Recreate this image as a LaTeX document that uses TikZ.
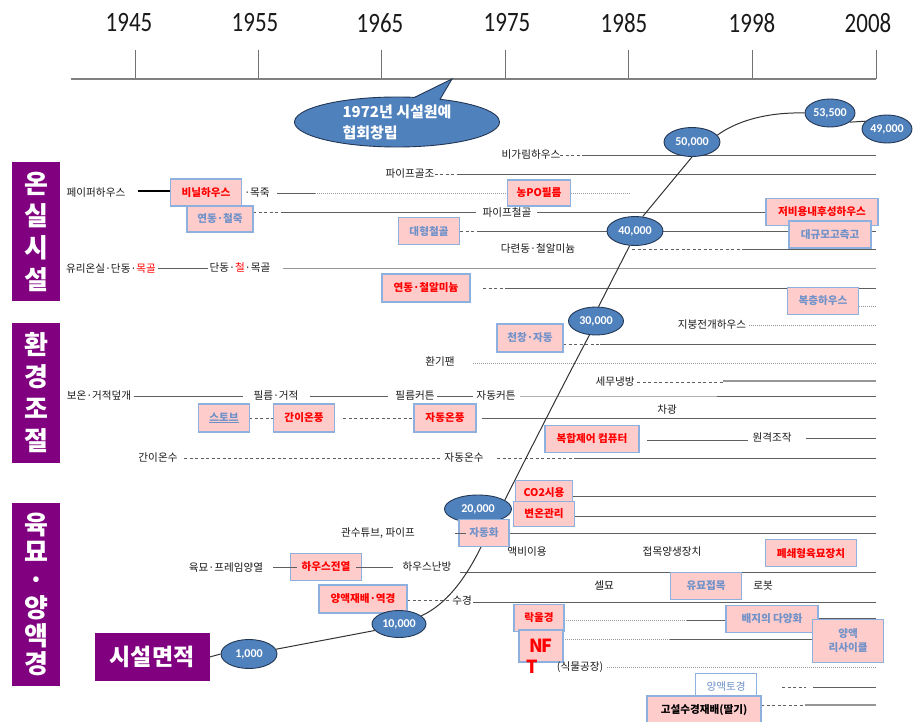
\documentclass[tikz,border=0pt]{standalone}
\usepackage{fontspec}
\usepackage{graphicx}
\newfontfamily\kr{Noto Sans CJK KR}
\newfontfamily\carl{Carlito}
\usetikzlibrary{shapes.geometric,shapes.callouts}
\definecolor{boxf}{RGB}{255,204,204}
\definecolor{boxb}{RGB}{141,176,222}
\definecolor{btxt}{RGB}{112,146,200}
\definecolor{rtxt}{RGB}{255,0,0}
\definecolor{eblue}{RGB}{79,129,189}
\definecolor{eedge}{RGB}{35,55,85}
\definecolor{purp}{RGB}{128,0,128}
\definecolor{lgray}{RGB}{95,95,95}
\definecolor{xgray}{RGB}{150,150,150}
\begin{document}
\begin{tikzpicture}[x=1pt,y=-1pt,
  lbl/.style={font=\kr\fontsize{10.6}{11}\selectfont, inner sep=0pt, text=black!90},
  bx/.style={draw=boxb, fill=boxf, line width=1.1pt, inner sep=0pt, font=\kr\bfseries\fontsize{10.6}{11}\selectfont, text=rtxt},
  bbx/.style={bx, text=btxt},
  val/.style={ellipse, draw=eedge, fill=eblue, line width=0.9pt, inner sep=0pt, text=white, font=\carl\bfseries\fontsize{12}{12}\selectfont, minimum width=56pt, minimum height=29pt},
  side/.style={fill=purp, text=white, font=\kr\bfseries\fontsize{26}{32}\selectfont, align=center, inner sep=0pt},
  sl/.style={draw=lgray, line width=0.9pt},
  gl/.style={draw=xgray, line width=0.9pt},
  dl/.style={draw=lgray, line width=0.9pt, dash pattern=on 3pt off 2.5pt},
  ol/.style={draw=xgray, line width=0.7pt, dash pattern=on 1pt off 1pt},
  crv/.style={draw=black!80, line width=1pt},
  yrs/.style={font=\carl\fontsize{28}{28}\selectfont, inner sep=0pt, text=black!90},
  tick/.style={draw=black!55, line width=0.8pt},
]
\useasboundingbox (0,0) rectangle (914,722);
\coordinate (R) at (876,0);

% ---------- timeline ----------
\foreach \yr/\xx/\tx in {1945/135/129,1955/258/255,1965/381/380,1975/505/507,1985/628/624,1998/752/752,2008/876/868}{
  \node[yrs] (y\yr) at (\tx,23) {\scalebox{0.82}[1]{\yr}};
  \draw[tick] (\xx,50) -- (\xx,79);
}
\draw[draw=black!50, line width=1.6pt] (71,79) -- (R |- 0,79);

% ---------- section 1: 온실시설 ----------
\node[lbl] (t1) at (531,155) {비가림하우스};
\draw[dl] (t1.east) -- (583,155);
\draw[sl] (583,155) -- (R |- 0,155);

\node[lbl] (t2) at (410,174) {파이프골조};
\draw[dl] (t2.east) -- (457,174);
\draw[sl] (457,174) -- (R |- 0,174);

\node[lbl] (t3) at (96,193) {페이퍼하우스};
\draw[line width=2.4pt, black] (138,191) -- (172,191);
\draw[sl] (277,193.5) -- (315,193.5);
\draw[ol] (315,193.5) -- (630,193.5);
\node[bx, minimum width=71pt, minimum height=27pt] (b3) at (206,192.5) {비닐하우스};
\node[lbl] (t3b) at (257,193) {·목죽};
\node[bx, minimum width=63pt, minimum height=26pt] (b3c) at (539,193) {농PO필름};

\draw[dl] (253,212) -- (283,212);
\draw[sl] (283,212) -- (476,212);
\draw[sl] (537,212) -- (766,212);
\node[bbx, minimum width=66pt, minimum height=26pt] (b4) at (220,219) {연동·철죽};
\node[lbl] (t4) at (507,213) {파이프철골};

\draw[dl] (460,231) -- (480,231);
\draw[sl] (480,231) -- (R |- 0,231);
\node[bbx, minimum width=61pt, minimum height=27pt] (b5) at (429,231) {대형철골};
\node[bx, minimum width=112pt, minimum height=27pt] (b4b) at (822,212) {저비용내후성하우스};
\node[bbx, minimum width=82pt, minimum height=27pt] (b5b) at (830,234.5) {대규모고측고};

\node[lbl] (t6) at (538,249) {다련동·철알미늄};
\draw[dl] (632,249) -- (745,249);
\draw[sl] (745,249) -- (R |- 0,249);

\node[lbl] (t7) at (111,269) {유리온실·단동·\textcolor{rtxt}{목골}};
\draw[sl] (158,268) -- (208,268);
\node[lbl] (t7b) at (240,268) {단동·\textcolor{rtxt}{철}·목골};
\draw[gl] (283,268) -- (R |- 0,268);

\draw[dl] (483,288) -- (507,288);
\draw[sl] (507,288) -- (R |- 0,288);
\node[bx, minimum width=88pt, minimum height=28pt] (b8) at (426,288) {연동·철알미늄};

\node[bbx, minimum width=71pt, minimum height=27pt] (b9) at (823,301) {복층하우스};
\draw[ol] (b9.east |- 0,306) -- (R |- 0,306);

% ---------- section 2: 환경조절 ----------
\node[lbl] (t10) at (712,325) {지붕전개하우스};
\draw[ol] (749,325) -- (R |- 0,325);

\draw[dl] (563,344) -- (600,344);
\draw[sl] (600,344) -- (R |- 0,344);
\node[bbx, minimum width=66pt, minimum height=28pt] (b11) at (530,338) {천창·자동};

\node[lbl] (t12) at (440,362) {환기팬};
\draw[ol] (473,363) -- (R |- 0,363);

\node[lbl] (t13) at (615,382) {세무냉방};
\draw[dl] (637,382) -- (723,382);
\draw[draw=xgray, line width=1.6pt] (723,381) -- (R |- 0,381);

\node[lbl] (t14a) at (99,396) {보온·거적덮개};
\draw[sl] (134,396) -- (243,396);
\node[lbl] (t14b) at (276,396) {필름·거적};
\draw[sl] (310,396) -- (388,396);
\node[lbl] (t14c) at (415,396) {필름커튼};
\draw[sl] (437,396) -- (473,396);
\node[lbl] (t14d) at (496,396) {자동커튼};
\draw[draw=black!30, line width=0.7pt] (520,396) -- (717,396);
\draw[sl] (717,396) -- (R |- 0,396);

\node[lbl] (t15) at (667,410) {차광};

\draw[dl] (249,418) -- (273,418);
\draw[dl] (343,418) -- (414,418);
\draw[sl] (482,418) -- (R |- 0,418);
\node[bbx, minimum width=51pt, minimum height=28pt] (b16a) at (224,418) {\underline{스토브}};
\node[bx, minimum width=61pt, minimum height=28pt] (b16b) at (304,418) {간이온풍};
\node[bx, minimum width=62pt, minimum height=28pt] (b16c) at (445,418) {자동온풍};

\node[bx, minimum width=94pt, minimum height=27pt] (b17) at (592,439) {복합제어 컴퓨터};
\draw[sl] (647,440) -- (748,440);
\node[lbl] (t17) at (772,438) {원격조작};
\draw[sl] (806,438) -- (R |- 0,438);

\node[lbl] (t18a) at (158,458) {간이온수};
\draw[dl] (184,458) -- (441,458);
\node[lbl] (t18b) at (464,458) {자동온수};
\draw[dl] (497,458) -- (575,458);
\draw[sl] (575,458) -- (R |- 0,458);

% ---------- section 3: 육묘·양액경 ----------
\draw[sl] (573,496) -- (R |- 0,496);
\draw[sl] (574,516) -- (R |- 0,516);
\draw[sl] (509,533) -- (R |- 0,533);
\node[lbl] (t21) at (378,533) {관수튜브, 파이프};

\node[lbl] (t22a) at (527,552) {액비이용};
\node[lbl] (t22b) at (672,552) {접목양생장치};
\node[bx, minimum width=91pt, minimum height=27pt] (b22) at (811,553) {폐쇄형육묘장치};

\node[lbl] (t23a) at (226,568) {육묘·프레임양열};
\node[bx, minimum width=71pt, minimum height=27pt] (b23) at (326,567) {하우스전열};
\draw[sl] (273,567) -- (297,567);
\draw[sl] (356,567) -- (393,567);
\node[lbl] (t23b) at (427,567) {하우스난방};
\draw[sl] (460,572) -- (R |- 0,572);

\node[lbl] (t24a) at (604,585) {셀묘};
\node[bbx, minimum width=71pt, minimum height=27pt] (b24) at (706,586) {유묘접목};
\node[lbl] (t24b) at (763,586) {로봇};

\draw[dl] (407,600) -- (451,600);
\node[bx, minimum width=88pt, minimum height=28pt] (b25) at (363,599) {양액재배·역경};
\node[lbl] (t25) at (462,601) {수경};
\draw[sl] (473,602) -- (R |- 0,602);

\draw[ol] (564,620) -- (687,620);
\draw[sl] (687,620) -- (726,620);
\draw[sl] (818,618) -- (R |- 0,618);
\draw[ol] (563,639) -- (670,639);
\draw[sl] (670,639) -- (813,639);
\node[bx, minimum width=50pt, minimum height=27pt] (b26) at (539,618) {락울경};
\node[bx, minimum width=44pt, minimum height=32pt, font=\kr\bfseries\fontsize{18}{18}\selectfont] (b27) at (541,646) {N\kern-1ptF};
\node[bbx, minimum width=92pt, minimum height=27pt] (b26b) at (772,619) {배지의 다양화};
\node[bbx, minimum width=71pt, minimum height=43pt, align=center, font=\kr\bfseries\fontsize{10.6}{14}\selectfont] (b27b) at (848,641) {양액\\리사이클};

\node[text=rtxt, font=\kr\bfseries\fontsize{18}{18}\selectfont, inner sep=0pt] (t28a) at (532,667) {T};
\node[lbl] (t28b) at (580,667) {(식물공장)};
\draw[ol] (607,667) -- (R |- 0,667);

\draw[dl] (782,687) -- (806,687);
\draw[sl] (813,687) -- (R |- 0,687);
\draw[dl] (761,705) -- (805,705);
\draw[draw=xgray, line width=1.8pt] (805,705) -- (R |- 0,705);
\node[bbx, fill=white, minimum width=61pt, minimum height=27pt, font=\kr\fontsize{10.6}{11}\selectfont] (b29) at (726,687) {양액토경};
\node[bx, text=black, minimum width=114pt, minimum height=28pt] (b30) at (704,710) {고설수경재배(딸기)};

% ---------- side labels ----------
\node[side, minimum width=48pt, minimum height=139pt] (s1) at (36,232) {온\\실\\시\\설};
\node[side, minimum width=48pt, minimum height=139pt] (s2) at (36,393) {환\\경\\조\\절};
\node[side, minimum width=48pt, minimum height=183pt, font=\kr\bfseries\fontsize{26}{27.8}\selectfont] (s3) at (36,594) {육\\묘\\·\\양\\액\\경};
\node[side, font=\kr\bfseries\fontsize{23}{23}\selectfont, minimum width=115pt, minimum height=48pt] (area) at (152,657) {시설면적};

% ---------- callout ----------
\node[ellipse callout, draw=eedge, fill=eblue, line width=0.9pt, minimum width=205pt, minimum height=50pt,
      callout absolute pointer={(452,79)}, text=white, font=\kr\bfseries\fontsize{15}{21}\selectfont,
      align=left, inner sep=0pt] (co) at (397,122) {1972년 시설원예\\협회창립};

% ---------- area curve and values ----------
\node[val] (v1) at (249,654) {1,000};
\node[val, minimum width=54pt, minimum height=27pt] (v10) at (399,624) {10,000};
\node[val, minimum width=55pt, minimum height=28pt] (v30) at (596,321) {30,000};
\node[val] (v40) at (635,231) {40,000};
\node[val] (v50) at (692,142) {50,000};
\node[val, minimum width=50pt, minimum height=28pt] (v535) at (830,113) {53,500};
\node[val, minimum width=50pt, minimum height=28pt] (v49) at (887,129) {49,000};

\draw[crv] (area.east) -- (v1.west);
\draw[crv] (v1.10) -- (v10.195);
\draw[crv] (v10.20) .. controls (447,604) and (465,578) .. (478,553) .. controls (510,490) and (555,400) .. (v30.245);
\draw[crv] (v30.80) -- (v40.250);
\draw[crv] (v40.62) -- (v50.south);
\draw[crv] (v50.15) .. controls (735,122) and (765,112) .. (v535.west);
\draw[crv] (v535.-25) -- (v49.160);

\node[val, minimum width=67pt, minimum height=28pt] (v20) at (478,509) {20,000};
\node[bx, minimum width=57pt, minimum height=25pt] (b19) at (544,493) {CO2시용};
\node[bx, minimum width=61pt, minimum height=25pt] (b20) at (544,514) {변온관리};
\node[bbx, minimum width=50pt, minimum height=27pt] (b21) at (484,533) {자동화};
\draw[sl] (455,533) -- (466,533);
\end{tikzpicture}
\end{document}
